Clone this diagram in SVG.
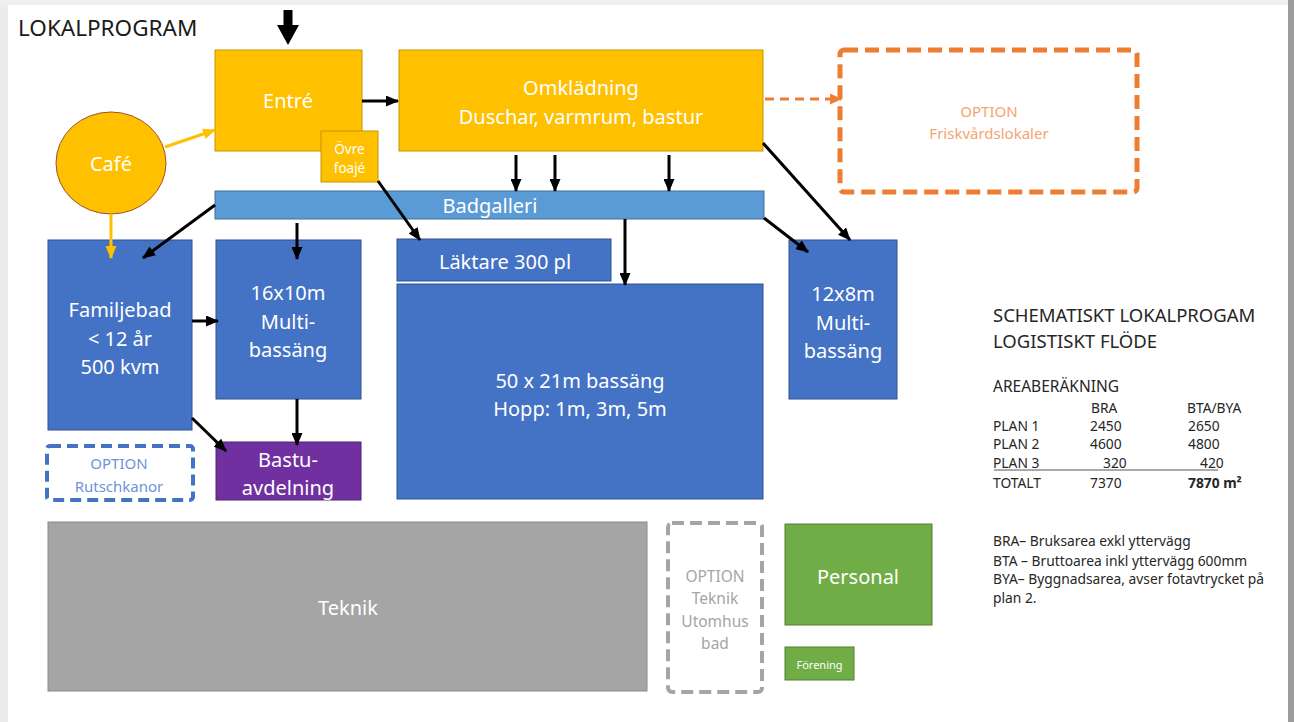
<svg xmlns="http://www.w3.org/2000/svg" width="1294" height="722" viewBox="0 0 1294 722">
<defs>
<style>
.lbl{font-family:"Noto Sans","Liberation Sans",sans-serif;fill:#fff;text-anchor:middle;dominant-baseline:central}
.yel{fill:#FFC000;stroke:#C59500;stroke-width:1}
.blu{fill:#4472C4;stroke:#2F528F;stroke-width:1}
.conn{stroke:#000;stroke-width:3;fill:none;marker-end:url(#ah)}
.oconn{stroke:#FFC000;stroke-width:3;fill:none;marker-end:url(#ahY)}
.side{font-family:"Noto Sans","Liberation Sans",sans-serif;fill:#262626}
</style>
<marker id="ah" markerUnits="userSpaceOnUse" markerWidth="13" markerHeight="11" refX="12" refY="5.5" orient="auto"><path d="M0,0 L13,5.5 L0,11 z" fill="#000"/></marker>
<marker id="ahY" markerUnits="userSpaceOnUse" markerWidth="13" markerHeight="11" refX="12" refY="5.5" orient="auto"><path d="M0,0 L13,5.5 L0,11 z" fill="#FFC000"/></marker>
<marker id="ahO" markerUnits="userSpaceOnUse" markerWidth="12" markerHeight="11" refX="11" refY="5.5" orient="auto"><path d="M0,0 L12,5.5 L0,11 z" fill="#ED7D31"/></marker>
</defs>
<rect x="0" y="0" width="1294" height="722" fill="#fff"/>
<rect x="0" y="0" width="8" height="722" fill="#ececec"/>
<rect x="0" y="0" width="1294" height="5" fill="#efefef"/>
<rect x="1288" y="0" width="6" height="722" fill="#9c9c9c"/>
<text x="18" y="36" class="side" style="font-size:22.5px;fill:#1a1a1a">LOKALPROGRAM</text>

<g id="entre"><rect x="215" y="50" width="147" height="101" class="yel"/><text x="288" y="100" class="lbl" style="font-size:20px">Entré</text></g>
<g id="ovre-foaje"><rect x="321" y="131" width="57" height="51" class="yel"/><text x="349.5" y="149" class="lbl" style="font-size:13.5px">Övre</text><text x="349.5" y="168" class="lbl" style="font-size:13.5px">foajé</text></g>
<g id="cafe"><ellipse cx="111" cy="163" rx="55" ry="51" fill="#FFC000" stroke="#A0522D" stroke-width="1"/><text x="111" y="163" class="lbl" style="font-size:20px">Café</text></g>
<g id="omkladning"><rect x="399" y="50" width="364" height="101" class="yel"/><text x="581" y="87" class="lbl" style="font-size:20px">Omklädning</text><text x="581" y="116" class="lbl" style="font-size:20px">Duschar, varmrum, bastur</text></g>
<g id="option-friskvard"><rect x="840" y="50" width="297" height="142" rx="4" fill="none" stroke="#ED7D31" stroke-width="5" stroke-dasharray="14 7"/><text x="989" y="111" class="lbl" style="font-size:15px;fill:#F4A472">OPTION</text><text x="989" y="133" class="lbl" style="font-size:15px;fill:#F4A472">Friskvårdslokaler</text></g>
<g id="badgalleri"><rect x="215" y="191" width="549" height="28" fill="#5B9BD5" stroke="#41719C" stroke-width="1"/><text x="490" y="205" class="lbl" style="font-size:20px">Badgalleri</text></g>
<g id="familjebad"><rect x="48" y="240" width="144" height="190" class="blu"/><text x="120" y="309" class="lbl" style="font-size:20px">Familjebad</text><text x="120" y="338" class="lbl" style="font-size:20px">&lt; 12 år</text><text x="120" y="366" class="lbl" style="font-size:20px">500 kvm</text></g>
<g id="b16x10"><rect x="216" y="240" width="145" height="159" class="blu"/><text x="288" y="292" class="lbl" style="font-size:20px">16x10m</text><text x="288" y="321" class="lbl" style="font-size:20px">Multi-</text><text x="288" y="349" class="lbl" style="font-size:20px">bassäng</text></g>
<g id="laktare"><rect x="397" y="239" width="214" height="42" class="blu"/><text x="505" y="261" class="lbl" style="font-size:20px">Läktare 300 pl</text></g>
<g id="b50x21"><rect x="397" y="284" width="366" height="215" class="blu"/><text x="580" y="380" class="lbl" style="font-size:20px">50 x 21m bassäng</text><text x="580" y="408" class="lbl" style="font-size:20px">Hopp: 1m, 3m, 5m</text></g>
<g id="b12x8"><rect x="789" y="240" width="108" height="159" class="blu"/><text x="843" y="293" class="lbl" style="font-size:20px">12x8m</text><text x="843" y="322" class="lbl" style="font-size:20px">Multi-</text><text x="843" y="350" class="lbl" style="font-size:20px">bassäng</text></g>
<g id="option-rutschkanor"><rect x="47" y="446" width="146" height="54" rx="3" fill="none" stroke="#4472C4" stroke-width="4" stroke-dasharray="11 6"/><text x="119" y="463" class="lbl" style="font-size:15px;fill:#6F93D6">OPTION</text><text x="119" y="486" class="lbl" style="font-size:15px;fill:#6F93D6">Rutschkanor</text></g>
<g id="bastu"><rect x="216" y="442" width="145" height="58" fill="#7030A0" stroke="#4F2270" stroke-width="1"/><text x="288" y="459" class="lbl" style="font-size:20px">Bastu-</text><text x="288" y="487" class="lbl" style="font-size:20px">avdelning</text></g>
<g id="teknik"><rect x="48" y="522" width="599" height="169" fill="#A5A5A5" stroke="#8A8A8A" stroke-width="1"/><text x="348" y="607" class="lbl" style="font-size:20px">Teknik</text></g>
<g id="option-teknik"><rect x="668" y="523" width="94" height="169" rx="4" fill="none" stroke="#A5A5A5" stroke-width="4" stroke-dasharray="12 6"/><text x="715" y="576" class="lbl" style="font-size:15.5px;fill:#A5A5A5">OPTION</text><text x="715" y="598" class="lbl" style="font-size:15.5px;fill:#A5A5A5">Teknik</text><text x="715" y="621" class="lbl" style="font-size:15.5px;fill:#A5A5A5">Utomhus</text><text x="715" y="643" class="lbl" style="font-size:15.5px;fill:#A5A5A5">bad</text></g>
<g id="personal"><rect x="785" y="524" width="147" height="101" fill="#70AD47" stroke="#507E32" stroke-width="1"/><text x="858" y="576" class="lbl" style="font-size:20px">Personal</text></g>
<g id="forening"><rect x="785" y="647" width="69" height="33" fill="#70AD47" stroke="#507E32" stroke-width="1"/><text x="819.5" y="664" class="lbl" style="font-size:11px">Förening</text></g>

<g id="connectors">
<path d="M283.5,10 H292.5 V25 H299 L288,45 L277,25 H283.5 Z" fill="#000"/>
<line x1="362" y1="101" x2="398" y2="101" class="conn"/>
<line x1="165" y1="147" x2="215" y2="130" class="oconn"/>
<line x1="111" y1="214" x2="111" y2="258" class="oconn"/>
<line x1="765" y1="99" x2="841" y2="99" stroke="#ED7D31" stroke-width="3" stroke-dasharray="9 6" marker-end="url(#ahO)"/>
<line x1="516" y1="155" x2="516" y2="191" class="conn"/>
<line x1="555" y1="155" x2="555" y2="191" class="conn"/>
<line x1="669" y1="155" x2="669" y2="191" class="conn"/>
<line x1="763" y1="143" x2="850" y2="240" class="conn"/>
<line x1="215" y1="205" x2="143" y2="258" class="conn"/>
<line x1="297" y1="223" x2="297" y2="259" class="conn"/>
<line x1="378" y1="181" x2="420" y2="240" class="conn"/>
<line x1="625" y1="219" x2="625" y2="285" class="conn"/>
<line x1="764" y1="218" x2="808" y2="252" class="conn"/>
<line x1="192" y1="321" x2="218" y2="321" class="conn"/>
<line x1="297" y1="399" x2="297" y2="445" class="conn"/>
<line x1="192" y1="418" x2="226" y2="451" class="conn"/>
</g>

<g id="legend">
<text x="993" y="322" class="side" style="font-size:18.5px">SCHEMATISKT LOKALPROGAM</text>
<text x="993" y="348" class="side" style="font-size:18.5px">LOGISTISKT FLÖDE</text>
<text x="993" y="392" class="side" style="font-size:15.5px">AREABERÄKNING</text>
<g style="font-size:13.8px" class="side">
<text x="1091" y="413">BRA</text><text x="1187" y="413">BTA/BYA</text>
<text x="993" y="431">PLAN 1</text><text x="1090" y="431">2450</text><text x="1188" y="431">2650</text>
<text x="993" y="449">PLAN 2</text><text x="1090" y="449">4600</text><text x="1188" y="449">4800</text>
<text x="993" y="468">PLAN 3</text><text x="1103" y="468">320</text><text x="1200" y="468">420</text>
<text x="993" y="488">TOTALT</text><text x="1090" y="488">7370</text><text x="1188" y="488" style="font-weight:bold">7870 m²</text>
</g>
<line x1="994" y1="470" x2="1218" y2="470" stroke="#555" stroke-width="1"/>
<g style="font-size:13.8px" class="side">
<text x="993" y="546">BRA– Bruksarea exkl yttervägg</text>
<text x="993" y="566">BTA – Bruttoarea inkl yttervägg 600mm</text>
<text x="993" y="584">BYA– Byggnadsarea, avser fotavtrycket på</text>
<text x="993" y="603">plan 2.</text>
</g>
</g>
</svg>
